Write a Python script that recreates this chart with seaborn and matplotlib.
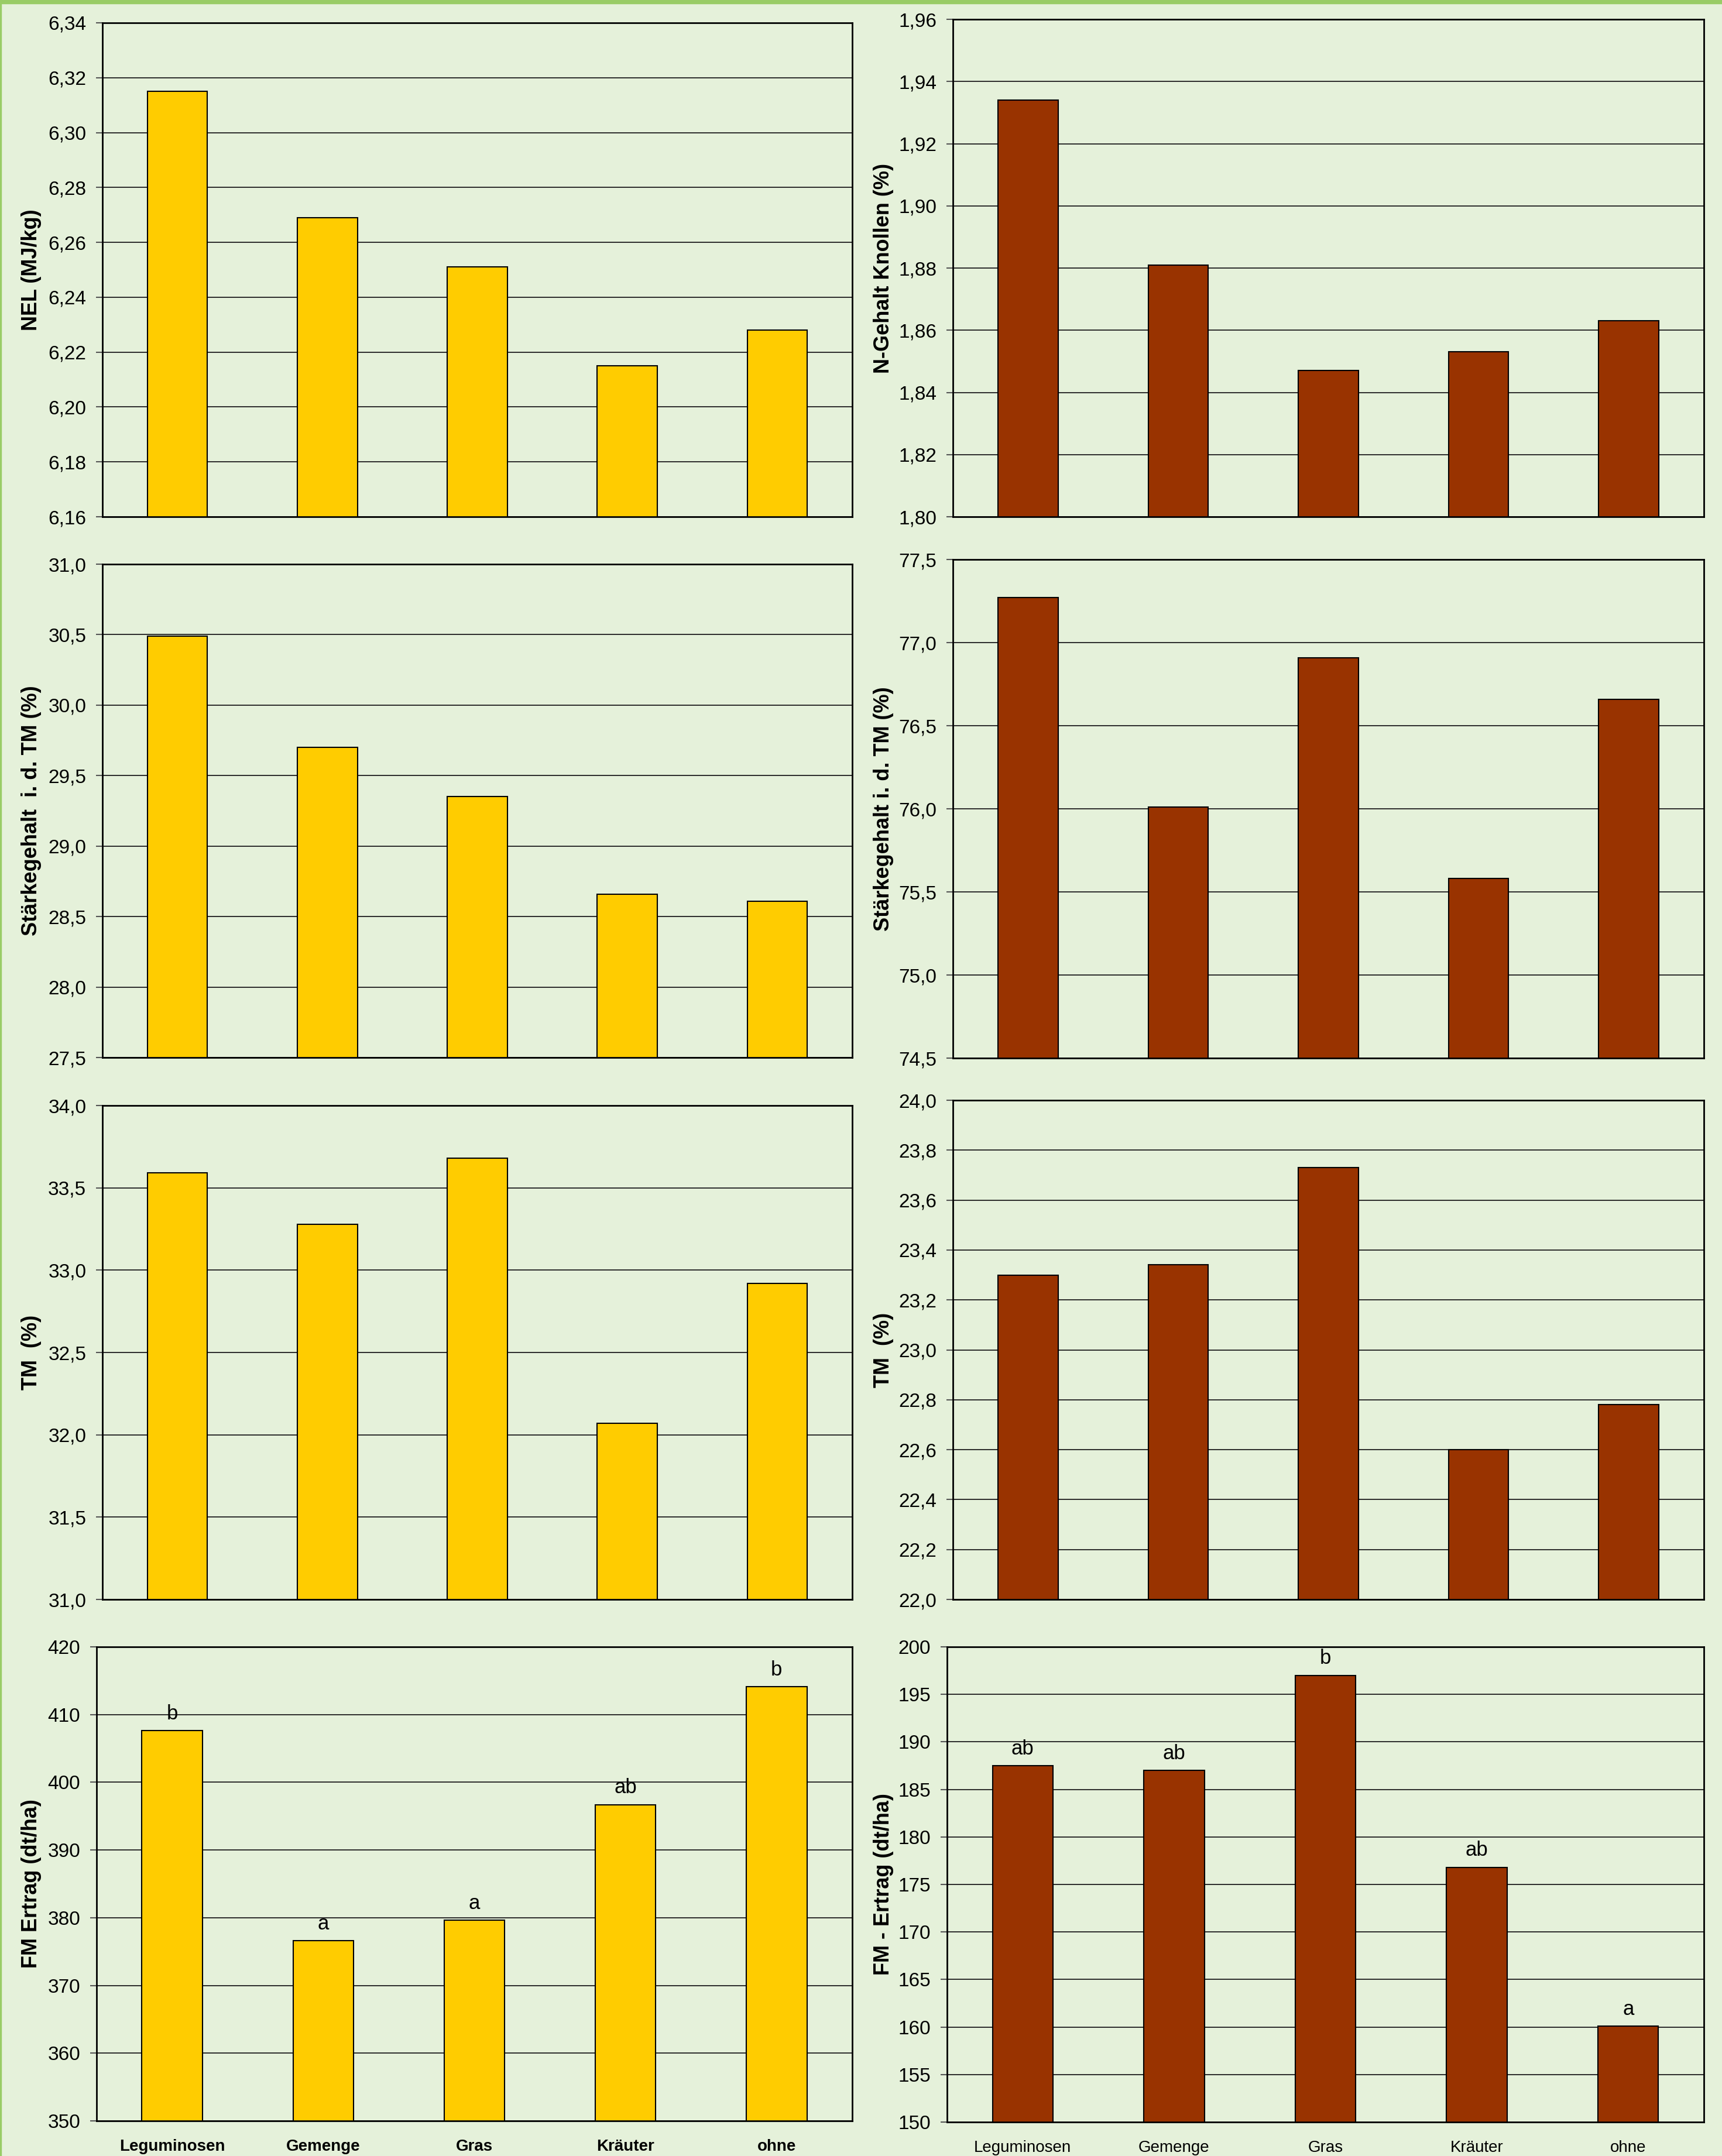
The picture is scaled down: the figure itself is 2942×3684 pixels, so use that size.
import matplotlib
matplotlib.use("Agg")
import matplotlib.pyplot as plt
from matplotlib.patches import Rectangle
from matplotlib.ticker import FuncFormatter, MultipleLocator
import pandas as pd
import seaborn as sns

categories = ["Leguminosen", "Gemenge", "Gras", "Kräuter", "ohne"]

nel = [6.315, 6.269, 6.251, 6.215, 6.228]
n_gehalt = [1.934, 1.881, 1.847, 1.853, 1.863]
staerke_left = [30.49, 29.70, 29.35, 28.66, 28.61]
staerke_right = [77.27, 76.01, 76.91, 75.58, 76.66]
tm_left = [33.59, 33.28, 33.68, 32.07, 32.92]
tm_right = [23.30, 23.34, 23.73, 22.60, 22.78]
fm_left = [407.6, 376.6, 379.6, 396.7, 414.1]
fm_right = [187.5, 187.0, 197.0, 176.8, 160.1]
letters_left = ["b", "a", "a", "ab", "b"]
letters_right = ["ab", "ab", "b", "ab", "a"]

YELLOW = "#FFCC00"
BROWN = "#993300"
BG = "#E5F1DA"
W, H = 2942, 3684

plt.rcParams["font.family"] = ["Liberation Sans", "DejaVu Sans"]

fig = plt.figure(figsize=(W / 100, H / 100), dpi=100, facecolor=BG)
# green frame bits of the original slide
fig.patches.append(Rectangle((0, 1 - 6 / H), 1, 6 / H, transform=fig.transFigure,
                             color="#99CC66", zorder=0))
fig.patches.append(Rectangle((0, 0), 2 / W, 1, transform=fig.transFigure,
                             color="#99CC66", zorder=0))

# (values, ylabel, ylim, step, decimals, colour, pixel box x0,y0,x1,y1, letters, xlabels)
panels = [
    (nel, "NEL (MJ/kg)", (6.16, 6.34), 0.02, 2, YELLOW, (175, 39, 1456, 883), None, None),
    (n_gehalt, "N-Gehalt Knollen (%)", (1.80, 1.96), 0.02, 2, BROWN, (1628, 33, 2911, 883), None, None),
    (staerke_left, "Stärkegehalt  i. d. TM (%)", (27.5, 31.0), 0.5, 1, YELLOW, (175, 964, 1456, 1807), None, None),
    (staerke_right, "Stärkegehalt i. d. TM (%)", (74.5, 77.5), 0.5, 1, BROWN, (1628, 956, 2911, 1808), None, None),
    (tm_left, "TM  (%)", (31.0, 34.0), 0.5, 1, YELLOW, (175, 1889, 1456, 2733), None, None),
    (tm_right, "TM  (%)", (22.0, 24.0), 0.2, 1, BROWN, (1628, 1880, 2911, 2733), None, None),
    (fm_left, "FM Ertrag (dt/ha)", (350, 420), 10, 0, YELLOW, (165, 2814, 1456, 3624), letters_left, "bold"),
    (fm_right, "FM - Ertrag (dt/ha)", (150, 200), 5, 0, BROWN, (1618, 2814, 2911, 3626), letters_right, "normal"),
]

for vals, ylabel, ylim, step, dec, col, box, letters, xweight in panels:
    x0, y0, x1, y1 = box
    ax = fig.add_axes([x0 / W, 1 - y1 / H, (x1 - x0) / W, (y1 - y0) / H])
    ax.set_facecolor(BG)
    df = pd.DataFrame({"Variante": categories, "Wert": vals})
    sns.barplot(data=df, x="Variante", y="Wert", color=col, width=0.4,
                edgecolor="black", linewidth=1.5, saturation=1, ax=ax)
    ax.set_ylim(*ylim)
    ax.yaxis.set_major_locator(MultipleLocator(step))
    ax.yaxis.set_major_formatter(FuncFormatter(
        lambda v, p, d=dec: f"{v:.{d}f}".replace(".", ",")))
    ax.yaxis.grid(True, color="#2b2b2b", linewidth=1.4)
    ax.set_axisbelow(True)
    for s in ax.spines.values():
        s.set_color("black")
        s.set_linewidth(2)
    ax.tick_params(axis="y", labelsize=24, length=8, width=1.5, color="#555555", pad=12)
    ax.tick_params(axis="x", length=0, pad=22)
    ax.set_xlabel("")
    ax.set_ylabel(ylabel, fontsize=26, fontweight="bold")
    # right edge of the rotated label, in figure pixels
    lx = 71 if x0 < 1000 else 1527
    ax.yaxis.set_label_coords((lx - x0) / (x1 - x0), 0.5)
    if xweight is None:
        ax.set_xticklabels([])
    else:
        ax.set_xticks(range(len(categories)))
        ax.set_xticklabels(categories, fontsize=20, fontweight=xweight)
    if letters:
        for i, (v, t) in enumerate(zip(vals, letters)):
            ax.annotate(t, (i, v), xytext=(0, 14), textcoords="offset points",
                        ha="center", va="baseline", fontsize=25)

fig.savefig("out.png", dpi=100, facecolor=BG)
